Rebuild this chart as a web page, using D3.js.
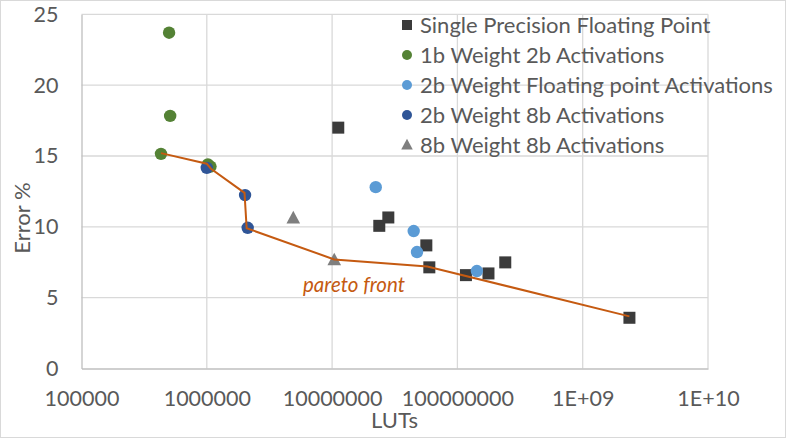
<!DOCTYPE html>
<html><head><meta charset="utf-8">
<script src="https://cdn.jsdelivr.net/npm/d3@7"></script>
<style>body{margin:0;background:#fff}svg{display:block}text{font-family:Lato,"Open Sans",sans-serif}</style>
</head><body><svg id="c" width="786" height="438"></svg>
<script>
const seriesNames = ["Single Precision Floating Point","1b Weight 2b Activations","2b Weight Floating point Activations","2b Weight 8b Activations","8b Weight 8b Activations"];
const seriesColors = ["#3b3b3b","#548235","#5b9bd5","#2f5597","#7f7f7f"];
const seriesShapes = ["square","circle","circle","circle","triangle"];
const singlePrecision = [[1.12e7,17.0],[2.38e7,10.07],[2.81e7,10.66],[5.65e7,8.69],[5.97e7,7.14],[1.17e8,6.59],[1.77e8,6.71],[2.41e8,7.49],[2.36e9,3.58]];
const w1a2 = [[5.0e5,23.7],[5.1e5,17.83],[4.31e5,15.15],[1.07e6,14.25],[1.02e6,14.4]];
const w2aFP = [[2.23e7,12.8],[4.48e7,9.70],[4.76e7,8.22],[1.43e8,6.88]];
const w2a8 = [[1.0e6,14.16],[2.02e6,12.24],[2.12e6,9.93]];
const w8a8 = [[4.9e6,10.6],[1.04e7,7.65]];
const pareto = [[4.31e5,15.2],[1.0e6,14.45],[1.08e6,14.1],[2.0e6,12.4],[2.08e6,9.9],[1.04e7,7.7],[5.75e7,7.2],[2.36e9,3.68]];
const xTicks = [1e5,1e6,1e7,1e8,1e9,1e10];
const xTickLabels = ["100000","1000000","10000000","100000000","1E+09","1E+10"];
const yTicks = [0,5,10,15,20,25];
const allSeries = [singlePrecision,w1a2,w2aFP,w2a8,w8a8];

const svg = d3.select("#c");
const L=81.5,R=708,T=14.3,B=368.5;
const x = d3.scaleLog().domain([1e5,1e10]).range([L,R]);
const y = d3.scaleLinear().domain([0,25]).range([B,T]);
const txt="#595959";

svg.append("rect").attr("x",0.5).attr("y",0.5).attr("width",785).attr("height",437).attr("fill","#fff").attr("stroke","#d9d9d9");

// gridlines
svg.append("g").selectAll("line").data(yTicks.filter(d=>d>0)).join("line")
  .attr("x1",L).attr("x2",R).attr("y1",d=>y(d)).attr("y2",d=>y(d)).attr("stroke","#d9d9d9").attr("stroke-width",1.3);
svg.append("g").selectAll("line").data(xTicks.slice(1)).join("line")
  .attr("x1",d=>x(d)).attr("x2",d=>x(d)).attr("y1",T).attr("y2",B).attr("stroke","#d9d9d9").attr("stroke-width",1.3);

// axes
const xa = svg.append("g").attr("transform",`translate(0,${B})`)
  .call(d3.axisBottom(x).tickValues(xTicks).tickFormat((d,i)=>xTickLabels[i]).tickSize(0).tickPadding(22));
xa.select(".domain").attr("stroke","#bfbfbf").attr("stroke-width",1.3);
xa.selectAll("text").attr("fill",txt).style("font-size","21.5px");
const ya = svg.append("g").attr("transform",`translate(${L},0)`)
  .call(d3.axisLeft(y).tickValues(yTicks).tickSize(0).tickPadding(23));
ya.select(".domain").attr("stroke","#bfbfbf").attr("stroke-width",1.3);
ya.selectAll("text").attr("fill",txt).style("font-size","21.5px");

svg.append("text").attr("x",394.5).attr("y",428).attr("text-anchor","middle").attr("fill",txt).style("font-size","22px").text("LUTs");
svg.append("text").attr("transform","translate(30,218) rotate(-90)").attr("text-anchor","middle").attr("fill",txt).style("font-size","22px").text("Error %");

function marker(g,shape,color,s){
  if(shape==="square") g.append("rect").attr("x",-s).attr("y",-s).attr("width",2*s).attr("height",2*s).attr("fill",color);
  else if(shape==="circle") g.append("circle").attr("r",s).attr("fill",color);
  else g.append("path").attr("d",`M0,${-s*1.15}L${s*1.05},${s*0.8}L${-s*1.05},${s*0.8}Z`).attr("fill",color);
}
allSeries.forEach((data,i)=>{
  const g = svg.append("g");
  data.forEach(d=>{
    const m = g.append("g").attr("transform",`translate(${x(d[0])},${y(d[1])})`);
    marker(m,seriesShapes[i],seriesColors[i],i===0?6:(i===4?6.5:6.2));
  });
});

// pareto line
svg.append("path").datum(pareto).attr("fill","none").attr("stroke","#c55a11").attr("stroke-width",2)
  .attr("d",d3.line().x(d=>x(d[0])).y(d=>y(d[1])));
svg.append("text").attr("x",303).attr("y",292).attr("fill","#c55a11").style("font-size","20.5px").style("font-style","italic").text("pareto front");

// legend
const lg = svg.append("g");
seriesNames.forEach((n,i)=>{
  const yy = 25+30*i;
  const m = lg.append("g").attr("transform",`translate(407,${yy})`);
  marker(m,seriesShapes[i],seriesColors[i],i===0?5:(i===4?5.5:5));
  lg.append("text").attr("x",420).attr("y",yy).attr("dy","0.36em").attr("fill",txt).style("font-size","22px").text(n);
});
</script></body></html>
